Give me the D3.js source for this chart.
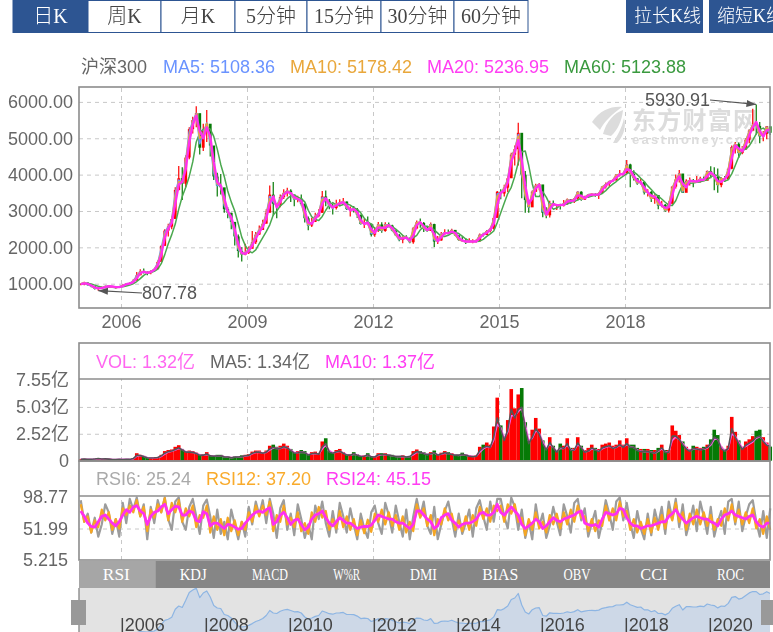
<!DOCTYPE html>
<html>
<head>
<meta charset="utf-8">
<script src="https://cdn.jsdelivr.net/npm/d3@7/dist/d3.min.js"></script>
<style>
  html, body { margin: 0; padding: 0; background: #fff; overflow: hidden; }
  svg { display: block; filter: blur(0.5px); }
  text { font-family: "Liberation Sans", "Noto Sans CJK SC", sans-serif; }
  .serif { font-family: "Liberation Serif", "Noto Sans CJK SC", serif; font-weight: 300; }
  .grid line { stroke: #c8c8c8; stroke-dasharray: 4 4; stroke-width: 1; }
  .grid .domain { display: none; }
  .lab .domain, .lab line { display: none; }
  .lab text { fill: #666; font-size: 18px; }
</style>
</head>
<body>
<svg id="chart" width="773" height="632"></svg>
<script>
// month by month readings, first value is Jan 2005, last is Jun 2021
const close = [
  985,1030,960,930,860,880,890,930,940,900,895,920,
  960,1000,1010,1080,1230,1340,1320,1290,1350,1400,1600,2040,
  2460,2570,2780,3580,3900,3750,4470,5250,5500,5690,4740,5200,
  5400,4800,3950,3700,3650,3050,2950,2700,2300,1900,1800,1850,
  1960,2140,2350,2480,2650,2950,3450,3200,3150,3380,3500,3560,
  3450,3320,3340,3200,2800,2600,2700,2860,2950,3400,3280,3130,
  3080,3200,3220,3260,3050,3050,3040,2890,2640,2680,2650,2350,
  2460,2630,2450,2630,2600,2460,2330,2200,2290,2250,2140,2520,
  2690,2670,2500,2450,2640,2160,2190,2370,2400,2370,2480,2330,
  2200,2180,2150,2160,2160,2170,2350,2340,2450,2510,2810,3530,
  3480,3640,3900,4550,4700,5150,4000,3300,3100,3530,3700,3730,
  2950,2880,3220,3160,3170,3150,3200,3320,3250,3340,3530,3310,
  3390,3450,3460,3440,3490,3670,3740,3820,3840,4000,4000,4030,
  4280,4020,3900,3760,3800,3510,3520,3330,3440,3150,3170,3010,
  3200,3670,3870,4030,3500,3830,3840,3800,3810,3890,3830,4100,
  4000,3940,3710,3900,3870,4160,4760,4840,4590,4690,4960,5210,
  5350,5340,5050,5120,5330,5150];
const high = [
  1010,1055,1030,960,930,900,920,950,960,940,920,940,
  980,1020,1040,1120,1320,1400,1420,1340,1370,1420,1640,2060,
  2500,2650,2850,3650,4240,4200,4530,5300,5590,5880,5330,5400,
  5780,5300,4600,4050,4020,3450,3100,2950,2650,2350,2000,2100,
  2020,2450,2420,2600,2760,3050,3700,3800,3200,3450,3600,3640,
  3600,3420,3420,3450,3200,2850,2810,2950,3050,3550,3560,3330,
  3200,3310,3320,3360,3260,3120,3140,3080,2900,2780,2850,2650,
  2560,2700,2690,2690,2680,2620,2480,2370,2320,2330,2270,2560,
  2740,2790,2700,2590,2680,2650,2310,2420,2500,2490,2510,2480,
  2330,2300,2250,2250,2220,2220,2380,2400,2480,2540,2850,3550,
  3600,3720,3950,4600,4800,5430,4500,4100,3280,3560,3750,3770,
  3600,3100,3280,3290,3190,3200,3300,3340,3320,3360,3540,3540,
  3420,3470,3490,3490,3510,3680,3780,3830,3870,4020,4130,4060,
  4400,4300,4120,3900,3890,3800,3600,3550,3480,3410,3280,3190,
  3270,3680,4000,4130,3750,3870,3920,3880,3960,3940,3950,4110,
  4230,4200,4170,3930,3960,4170,4800,4900,4880,4790,5000,5240,
  5810,5930,5450,5200,5340,5280];
const low = [
  960,960,950,900,840,808,860,880,910,885,860,880,
  920,960,990,1020,1100,1250,1280,1230,1260,1340,1400,1610,
  2050,2300,2500,2780,3560,3300,3650,4420,5130,5300,4550,4650,
  4900,4500,3850,3400,3450,2950,2800,2500,2050,1720,1610,1780,
  1820,2080,2090,2340,2480,2660,3050,2870,2800,3100,3330,3400,
  3250,3130,3240,3150,2680,2470,2560,2700,2830,2950,3130,3050,
  2900,3040,3130,3200,3030,2850,2960,2810,2630,2530,2640,2300,
  2290,2420,2400,2430,2560,2440,2320,2170,2110,2240,2110,2100,
  2500,2540,2420,2430,2460,2010,2090,2180,2330,2350,2380,2310,
  2180,2170,2090,2130,2110,2130,2150,2300,2340,2410,2490,2830,
  3320,3400,3520,3990,4250,4250,3350,2950,2950,3150,3520,3570,
  2830,2800,2820,3130,3030,3040,3120,3170,3200,3220,3300,3280,
  3300,3370,3400,3390,3330,3470,3620,3670,3800,3840,3950,3960,
  4040,3650,3840,3720,3730,3450,3400,3250,3200,3050,3100,2980,
  2960,3180,3620,3780,3580,3580,3700,3650,3780,3780,3820,3850,
  3900,3570,3500,3650,3800,3850,4150,4580,4460,4560,4690,4860,
  5250,5100,4860,4920,4970,5090];
const ma5 = [
  990,1025,970,935,870,875,885,925,940,905,890,915,
  950,995,1005,1075,1220,1335,1330,1295,1340,1395,1570,1980,
  2420,2560,2760,3500,3850,3780,4400,5180,5470,5680,4850,5150,
  5420,4850,4050,3700,3700,3150,2960,2740,2350,1950,1820,1850,
  1950,2130,2340,2480,2640,2920,3400,3250,3140,3360,3490,3550,
  3470,3330,3340,3230,2830,2610,2690,2850,2940,3370,3300,3150,
  3070,3190,3220,3260,3070,3040,3050,2900,2660,2670,2660,2380,
  2440,2620,2460,2620,2600,2470,2340,2210,2280,2260,2150,2500,
  2680,2680,2520,2450,2630,2200,2180,2360,2400,2380,2470,2340,
  2210,2180,2150,2160,2160,2170,2340,2340,2440,2500,2780,3470,
  3490,3630,3880,4520,4690,5100,4050,3400,3110,3510,3690,3730,
  3000,2880,3200,3170,3170,3150,3200,3310,3260,3330,3520,3320,
  3380,3450,3460,3440,3480,3660,3730,3810,3840,3990,4010,4020,
  4260,4040,3910,3770,3800,3530,3510,3340,3430,3170,3170,3020,
  3170,3640,3860,4020,3530,3800,3840,3800,3810,3880,3840,4080,
  4010,3950,3720,3890,3870,4140,4720,4840,4600,4680,4940,5190,
  5360,5370,5070,5110,5310,5108.36];
const ma10 = [
  995,1020,985,945,885,875,882,915,935,915,895,910,
  945,990,1005,1060,1185,1320,1335,1300,1330,1385,1535,1890,
  2350,2530,2720,3380,3800,3790,4300,5060,5420,5660,5000,5080,
  5400,4950,4180,3750,3700,3220,2980,2780,2420,2000,1830,1840,
  1930,2100,2310,2460,2620,2880,3330,3310,3130,3320,3480,3540,
  3480,3350,3340,3250,2880,2630,2680,2830,2930,3320,3320,3170,
  3090,3180,3220,3250,3100,3030,3050,2920,2680,2660,2660,2420,
  2420,2600,2480,2600,2610,2490,2350,2230,2270,2270,2160,2470,
  2670,2690,2540,2460,2610,2240,2170,2340,2400,2390,2460,2350,
  2220,2180,2160,2160,2160,2170,2320,2340,2430,2490,2740,3400,
  3490,3610,3850,4480,4670,5050,4120,3450,3130,3480,3670,3730,
  3080,2880,3170,3180,3170,3150,3190,3300,3270,3320,3500,3340,
  3370,3440,3460,3440,3470,3650,3720,3800,3840,3980,4010,4020,
  4240,4060,3920,3780,3800,3550,3510,3350,3420,3190,3170,3030,
  3150,3610,3850,4000,3560,3780,3840,3800,3810,3870,3840,4060,
  4020,3960,3730,3880,3870,4120,4680,4840,4620,4670,4920,5170,
  5360,5400,5090,5100,5290,5178.42];
const ma20 = [
  990,1010,1000,950,900,870,880,905,930,925,905,905,
  935,985,1005,1045,1150,1290,1330,1300,1320,1375,1500,1800,
  2260,2510,2670,3200,3730,3800,4150,4900,5370,5620,5200,5000,
  5300,5050,4350,3800,3700,3350,3000,2830,2500,2100,1850,1820,
  1900,2050,2250,2420,2560,2800,3200,3400,3100,3250,3450,3520,
  3500,3380,3330,3280,3000,2680,2650,2790,2900,3200,3350,3200,
  3100,3150,3210,3240,3150,3020,3050,2970,2750,2640,2680,2500,
  2400,2550,2540,2540,2610,2530,2400,2260,2240,2270,2190,2320,
  2610,2690,2580,2480,2540,2360,2170,2280,2390,2390,2430,2400,
  2260,2190,2160,2160,2160,2160,2260,2350,2400,2480,2650,3170,
  3500,3560,3780,4350,4620,4950,4400,3700,3200,3350,3620,3720,
  3350,2900,3050,3190,3160,3160,3170,3260,3280,3290,3430,3420,
  3350,3420,3450,3450,3450,3580,3700,3780,3830,3920,4010,4010,
  4150,4120,3960,3830,3790,3650,3510,3420,3390,3290,3150,3090,
  3100,3430,3780,3950,3750,3650,3830,3820,3810,3850,3860,3960,
  4060,3970,3820,3800,3880,4000,4450,4800,4720,4640,4820,5080,
  5300,5450,5200,5050,5220,5236.95];
const ma60 = [
  1000,1005,1005,990,960,930,905,895,905,915,915,905,
  915,935,965,1000,1060,1140,1230,1290,1310,1340,1400,1550,
  1800,2100,2350,2640,3050,3400,3650,3950,4350,4900,5150,5250,
  5300,5250,5050,4700,4280,3950,3550,3250,3000,2650,2280,2050,
  1900,1850,1930,2100,2270,2430,2620,2890,3000,3140,3220,3340,
  3420,3440,3380,3340,3250,3020,2840,2770,2740,2850,3020,3170,
  3230,3170,3140,3180,3200,3160,3090,3040,2950,2800,2700,2640,
  2520,2470,2490,2530,2570,2570,2500,2420,2330,2260,2240,2260,
  2330,2480,2590,2580,2540,2480,2390,2300,2300,2330,2390,2410,
  2380,2310,2230,2180,2160,2160,2170,2220,2300,2370,2450,2680,
  2950,3220,3480,3650,3950,4330,4620,4650,4250,3750,3400,3400,
  3530,3380,3180,3050,3080,3160,3170,3190,3240,3270,3300,3360,
  3380,3380,3410,3430,3440,3480,3560,3660,3740,3810,3890,3960,
  4020,4080,4080,4000,3900,3810,3690,3590,3480,3410,3330,3240,
  3160,3150,3280,3520,3730,3800,3760,3770,3790,3800,3830,3860,
  3930,4000,3970,3890,3820,3860,4020,4250,4490,4660,4700,4790,
  4950,5120,5240,5280,5200,5123.88];
const vol = [
  .15,.18,.12,.15,.2,.25,.18,.2,.18,.12,.12,.15,
  .12,.15,.12,.25,.7,.55,.45,.3,.28,.3,.35,.55,
  .9,1.0,1.05,1.3,1.45,1.1,.9,.95,.9,.75,.55,.6,
  .8,.5,.5,.55,.55,.4,.4,.3,.4,.4,.5,.55,
  .6,.85,.95,.95,.8,.95,1.4,1.5,1.3,1.4,1.6,1.4,
  1.1,.8,.9,1.0,.9,.6,.8,.85,.7,1.8,2.1,.9,
  .8,1.0,1.1,.8,.6,.6,.8,.6,.45,.5,.7,.4,
  .4,.7,.7,.7,.6,.55,.45,.45,.5,.4,.45,.9,
  1.05,.9,.8,.65,.8,.95,.6,.75,.9,.8,.7,.6,
  .6,.75,.6,.5,.45,.5,1.3,1.5,1.7,1.5,3.2,5.9,
  3.3,2.2,3.8,6.7,4.9,6.2,6.8,3.6,1.9,2.9,4.0,3.0,
  1.9,1.2,2.2,1.4,1.0,1.6,1.4,2.1,1.2,1.2,2.2,1.4,
  1.0,1.2,1.5,1.2,1.1,1.5,1.6,1.7,1.4,1.5,1.9,1.5,
  2.1,1.5,1.5,1.2,1.1,1.1,1.1,1.0,1.0,1.2,1.5,1.0,
  1.0,3.3,2.8,2.4,1.8,1.3,1.1,1.4,1.3,1.2,1.3,1.5,
  2.0,2.9,2.4,1.3,1.1,1.4,4.1,2.7,1.9,1.3,1.8,2.0,
  2.3,2.8,2.9,2.2,1.7,1.32];
const volMa5 = [
  .12,.15,.12,.13,.16,.2,.16,.17,.15,.11,.11,.13,
  .11,.13,.12,.2,.5,.48,.38,.27,.25,.27,.3,.45,
  .7,.85,.9,1.05,1.2,1.0,.8,.8,.78,.68,.5,.52,
  .62,.45,.42,.45,.45,.36,.34,.27,.33,.34,.4,.46,
  .5,.7,.8,.8,.7,.8,1.1,1.25,1.1,1.15,1.3,1.2,
  .95,.7,.75,.82,.75,.52,.65,.7,.6,1.3,1.6,.8,
  .7,.82,.9,.7,.52,.52,.65,.52,.4,.42,.55,.36,
  .35,.55,.58,.58,.5,.46,.38,.38,.42,.35,.38,.65,
  .85,.78,.66,.55,.65,.75,.52,.62,.74,.66,.58,.5,
  .5,.6,.5,.42,.38,.42,.95,1.2,1.35,1.25,2.2,4.0,
  2.9,1.9,2.9,4.8,4.0,4.8,5.0,3.0,1.6,2.2,3.0,2.5,
  1.6,1.0,1.7,1.2,.8,1.25,1.15,1.6,.95,1.0,1.65,1.2,
  .78,.9,1.2,1.0,.85,1.2,1.3,1.4,1.15,1.25,1.5,1.25,
  1.6,1.25,1.25,.95,.85,.85,.85,.78,.7,.95,1.2,.78,
  .78,2.3,2.3,2.0,1.5,1.1,.88,1.15,1.1,1.0,1.1,1.25,
  1.6,2.2,2.0,1.1,.88,1.15,3.0,2.2,1.6,1.05,1.45,1.65,
  1.85,2.2,2.3,1.8,1.45,1.34];
const volMa10 = [
  .12,.14,.13,.13,.15,.18,.17,.17,.16,.12,.11,.12,
  .12,.13,.12,.17,.42,.48,.41,.3,.26,.27,.29,.4,
  .62,.8,.88,1.0,1.15,1.05,.85,.8,.78,.7,.55,.52,
  .58,.48,.43,.45,.45,.38,.35,.29,.32,.34,.38,.44,
  .48,.65,.76,.8,.72,.78,1.0,1.2,1.15,1.15,1.25,1.22,
  1.0,.78,.76,.8,.76,.58,.62,.68,.62,1.1,1.45,.95,
  .75,.8,.88,.74,.56,.52,.6,.55,.42,.42,.5,.4,
  .36,.5,.56,.58,.52,.47,.4,.38,.4,.37,.38,.55,
  .78,.78,.7,.58,.62,.72,.56,.6,.7,.68,.6,.53,
  .5,.58,.52,.45,.4,.42,.8,1.1,1.3,1.25,1.95,3.4,
  3.1,2.1,2.7,4.2,4.2,4.6,4.9,3.4,1.9,2.1,2.8,2.6,
  1.8,1.1,1.55,1.25,.88,1.15,1.15,1.45,1.05,1.0,1.5,1.25,
  .85,.88,1.1,1.05,.9,1.12,1.25,1.35,1.2,1.25,1.45,1.3,
  1.5,1.3,1.25,1.0,.9,.85,.85,.8,.72,.88,1.1,.85,
  .78,1.9,2.2,2.0,1.6,1.2,.95,1.1,1.1,1.05,1.08,1.2,
  1.45,2.0,2.0,1.3,.95,1.1,2.5,2.3,1.75,1.2,1.35,1.55,
  1.75,2.1,2.25,1.9,1.55,1.37];
const rsi6 = [
  94,62,74,46,68,40,58,88,76,44,66,40,
  90,60,96,80,98,70,88,36,84,60,94,76,
  98,66,50,92,98,62,50,84,96,70,44,86,
  95,70,38,80,44,62,36,80,58,36,62,40,
  84,58,92,72,94,60,96,74,38,82,94,50,
  74,42,88,66,38,58,36,86,66,92,60,40,
  78,46,90,70,46,82,58,36,74,52,38,76,
  86,60,44,90,72,46,86,62,40,80,36,70,
  96,70,92,56,44,84,36,58,78,92,66,40,
  74,44,60,80,40,82,94,70,50,92,62,96,
  96,70,52,98,84,50,80,38,62,36,88,56,
  74,38,56,84,62,42,88,70,46,90,96,64,
  82,40,60,78,38,62,94,74,50,92,98,64,
  90,60,38,78,52,36,74,42,80,58,84,44,
  92,66,96,54,88,42,62,86,48,92,70,44,
  84,40,62,78,44,92,96,58,92,48,70,88,
  94,62,40,78,38,82];
const rsi12 = [
  88,62,70,46,64,54,80,64,76,50,66,52,
  82,72,86,76,94,70,84,48,80,68,88,76,
  97,64,90,76,94,62,82,70,86,54,72,68,
  86,46,70,50,66,42,68,48,64,42,62,50,
  76,62,86,70,86,72,92,48,72,62,86,58,
  68,54,76,48,60,44,76,62,84,68,78,50,
  66,52,78,54,70,50,66,42,64,45,65,47,
  74,62,80,58,76,56,72,50,70,46,62,48,
  88,68,82,56,72,42,66,58,82,64,74,50,
  64,48,70,50,72,56,84,66,82,62,86,78,
  86,62,88,74,88,62,68,42,66,50,76,52,
  62,46,72,58,74,52,76,58,80,62,86,68,
  70,48,66,48,64,56,86,64,82,64,92,70,
  78,50,66,46,62,44,66,46,68,50,72,52,
  80,64,90,62,76,50,74,58,80,58,76,56,
  72,50,66,56,82,64,88,62,80,58,76,60,
  82,52,66,44,70,50];
const rsi24 = [
  78,70,60,55,54,62,70,72,66,60,56,62,
  72,80,76,84,86,78,74,58,70,76,78,84,
  88,74,80,85,84,72,72,78,76,64,62,77,
  74,56,60,60,56,52,58,57,54,51,52,60,
  66,72,76,78,76,80,83,58,62,72,76,68,
  58,64,66,58,50,54,66,72,74,78,68,60,
  56,62,68,64,60,60,56,52,54,55,55,57,
  64,72,70,68,66,66,62,60,60,56,52,58,
  78,78,72,66,62,52,56,68,72,74,64,60,
  54,58,60,60,62,66,74,76,72,72,76,88,
  76,72,78,84,78,72,58,52,56,60,66,62,
  52,56,62,68,64,62,66,68,70,72,76,78,
  60,58,56,58,54,66,76,74,72,74,82,80,
  68,60,56,56,52,54,56,56,58,60,62,62,
  70,74,80,72,66,60,64,68,70,68,66,66,
  62,60,56,66,72,74,78,72,70,68,66,70,
  72,62,56,54,60,60];

// tick values and labels
const yearTicks = [2006, 2009, 2012, 2015, 2018];
const navYears = [2006, 2008, 2010, 2012, 2014, 2016, 2018, 2020];
const priceTicks = [1000, 2000, 3000, 4000, 5000, 6000];
const volTicks = [0, 2.52, 5.03, 7.55];
const rsiTicks = [5.215, 51.99, 98.77];
const periodTabs = ['日K', '周K', '月K', '5分钟', '15分钟', '30分钟', '60分钟'];
const indicatorTabs = ['RSI', 'KDJ', 'MACD', 'W%R', 'DMI', 'BIAS', 'OBV', 'CCI', 'ROC'];
const priceLegend = [['沪深300', '#666', 81], ['MA5: 5108.36', '#6a93ff', 163], ['MA10: 5178.42', '#e9a73b', 290], ['MA20: 5236.95', '#ff3df2', 427], ['MA60: 5123.88', '#3a9a3f', 564]];
const volLegend = [['VOL: 1.32亿', '#ff66f0', 96], ['MA5: 1.34亿', '#666', 210], ['MA10: 1.37亿', '#ff3df2', 325]];
const rsiLegend = [['RSI6: 25.24', '#aaa', 96], ['RSI12: 37.20', '#f9ab2c', 206], ['RSI24: 45.15', '#ff3df2', 326]];

const months = close.map((d, i) => 2005 + (i + 0.5) / 12);

const svg = d3.select('#chart');
const left = 79, right = 770;
const main = { top: 87, bottom: 308 }, volP = { legend: 343, top: 379, bottom: 461 }, rsiP = { top: 496, bottom: 560 };

const x = d3.scaleLinear().domain([2006, 2018]).range([121, 625]);
const y = d3.scaleLinear().domain([1000, 6000]).range([283.7, 101.9]);
const yVol = d3.scaleLinear().domain([0, 7.55]).range([460.7, 380]);
const yRsi = d3.scaleLinear().domain([5.215, 98.77]).range([560, 497]);
const yNav = d3.scaleLinear().domain([3300, 5800]).range([612, 587]);

function panelBox(top, bottom) {
  svg.append('rect').attr('x', left).attr('y', top).attr('width', right - left).attr('height', bottom - top)
    .attr('fill', 'none').attr('stroke', '#8c8c8c').attr('stroke-width', 1.6);
}

function seriesLine(g, values, yScale, color, width) {
  const line = d3.line().x((d, i) => x(months[i])).y(d => yScale(d));
  g.append('path').attr('d', line(values)).attr('fill', 'none').attr('stroke', color)
    .attr('stroke-width', width).attr('stroke-linejoin', 'round');
}

function legendRow(items, yPos) {
  items.forEach(it => {
    svg.append('text').attr('x', it[2]).attr('y', yPos).attr('dy', '.35em')
      .attr('font-size', 18).attr('fill', it[1]).text(it[0]);
  });
}

function vGrid(top, bottom) {
  svg.append('g').attr('class', 'grid').attr('transform', `translate(0,${bottom})`)
    .call(d3.axisBottom(x).tickValues(yearTicks).tickSize(top - bottom).tickFormat(''));
}

function hGrid(scale, ticks) {
  svg.append('g').attr('class', 'grid').attr('transform', `translate(${left},0)`)
    .call(d3.axisLeft(scale).tickValues(ticks).tickSize(left - right).tickFormat(''));
}

// top buttons
const tabEdges = [13, 88, 161, 235, 307, 381, 454, 528];
periodTabs.forEach((t, i) => {
  svg.append('rect').attr('x', tabEdges[i]).attr('y', 0.5).attr('width', tabEdges[i + 1] - tabEdges[i]).attr('height', 32)
    .attr('fill', i === 0 ? '#2d5592' : '#fff').attr('stroke', '#2d5592').attr('stroke-width', 1);
  svg.append('text').attr('class', 'serif').attr('x', (tabEdges[i] + tabEdges[i + 1]) / 2).attr('y', 16).attr('dy', '.35em')
    .attr('text-anchor', 'middle').attr('font-size', 20).attr('fill', i === 0 ? '#fff' : '#444').text(t);
});
[['拉长K线', 626, 77], ['缩短K线', 709, 70]].forEach(b => {
  svg.append('rect').attr('x', b[1]).attr('y', 0).attr('width', b[2]).attr('height', 33).attr('fill', '#2d5592');
  svg.append('text').attr('class', 'serif').attr('x', b[1] + 8).attr('y', 16).attr('dy', '.35em')
    .attr('font-size', 18).attr('fill', '#fff').text(b[0]);
});

legendRow(priceLegend, 67);

// main price panel
vGrid(main.top, main.bottom);
hGrid(y, priceTicks);

// watermark
const wm = svg.append('g').attr('fill', '#dcdcdc');
wm.append('path').attr('d', 'M592 122 C600 110 612 106 622 107 C612 114 604 122 600 130 Z');
wm.append('path').attr('d', 'M603 134 C606 122 614 113 623 110 C622 120 618 130 611 136 Z');
wm.append('path').attr('d', 'M613 143 C617 136 622 128 624 118 C627 128 622 138 617 143 Z');
wm.append('text').attr('x', 632).attr('y', 129).attr('font-size', 24).attr('font-weight', 700)
  .attr('textLength', 125).text('东方财富网');
wm.append('text').attr('x', 632).attr('y', 144).attr('font-size', 13).attr('font-weight', 700)
  .attr('textLength', 125).text('eastmoney.com');

const priceG = svg.append('g');
months.forEach((m, i) => {
  const open = i ? close[i - 1] : close[i];
  const color = close[i] >= open ? '#ff0000' : '#067a06';
  priceG.append('line').attr('x1', x(m)).attr('x2', x(m)).attr('y1', y(high[i])).attr('y2', y(low[i]))
    .attr('stroke', color).attr('stroke-width', 1.2);
  priceG.append('rect').attr('x', x(m) - 1.4).attr('width', 2.8)
    .attr('y', y(Math.max(open, close[i]))).attr('height', Math.abs(y(open) - y(close[i])))
    .attr('fill', color);
});
seriesLine(priceG, ma60, y, '#4aa84e', 1.5);
seriesLine(priceG, ma5, y, '#6a93ff', 1.6);
seriesLine(priceG, ma10, y, '#e9a73b', 1.8);
seriesLine(priceG, ma20, y, '#ff2ff0', 2.4);

// max and min markers
svg.append('defs').append('marker').attr('id', 'head').attr('viewBox', '0 0 8 6').attr('refX', 8).attr('refY', 3)
  .attr('markerWidth', 8).attr('markerHeight', 6).attr('orient', 'auto')
  .append('path').attr('d', 'M0 0 L8 3 L0 6 Z').attr('fill', '#555');
function note(label, textX, textY, year, value, anchor) {
  svg.append('line').attr('x1', textX).attr('y1', textY)
    .attr('x2', x(year)).attr('y2', y(value)).attr('stroke', '#555').attr('stroke-width', 1.2)
    .attr('marker-end', 'url(#head)');
  svg.append('text').attr('x', textX).attr('y', textY).attr('dy', '.35em').attr('text-anchor', anchor)
    .attr('font-size', 18).attr('fill', '#555').text(label);
}
note('807.78', 142, 293, 2005.46, 807.78, 'start');
note('5930.91', 710, 100, 2021.12, 5930.91, 'end');

panelBox(main.top, main.bottom);

svg.append('g').attr('class', 'lab').attr('transform', `translate(${left - 6},0)`)
  .call(d3.axisLeft(y).tickValues(priceTicks).tickSize(0).tickPadding(0).tickFormat(d3.format('.2f')));
svg.append('g').attr('class', 'lab').attr('transform', `translate(0,${main.bottom + 7})`)
  .call(d3.axisBottom(x).tickValues(yearTicks).tickSize(0).tickPadding(0).tickFormat(d3.format('d')));

// volume panel
vGrid(volP.top, volP.bottom);
hGrid(yVol, [2.52, 5.03]);
legendRow(volLegend, 362);
const volG = svg.append('g');
volG.selectAll('rect').data(vol).join('rect')
  .attr('x', (d, i) => x(months[i]) - 1.8).attr('width', 3.6)
  .attr('y', d => yVol(d)).attr('height', d => yVol(0) - yVol(d))
  .attr('fill', (d, i) => (i === 0 || close[i] >= close[i - 1]) ? '#ff0000' : '#067a06');
seriesLine(volG, volMa10, yVol, '#ff5ff0', 1.6);
seriesLine(volG, volMa5, yVol, '#555', 1.6);
panelBox(volP.legend, volP.bottom);
svg.append('line').attr('x1', left).attr('x2', right).attr('y1', volP.top).attr('y2', volP.top).attr('stroke', '#8c8c8c').attr('stroke-width', 1.4);
svg.append('g').attr('class', 'lab').attr('transform', 'translate(69,0)')
  .call(d3.axisLeft(yVol).tickValues(volTicks).tickSize(0).tickPadding(0).tickFormat(d => d ? d.toFixed(2) + '亿' : '0'));

// rsi panel
vGrid(rsiP.top, rsiP.bottom);
hGrid(yRsi, [51.99]);
legendRow(rsiLegend, 479);
const rsiG = svg.append('g');
seriesLine(rsiG, rsi6, yRsi, '#9c9c9c', 2.2);
seriesLine(rsiG, rsi12, yRsi, '#f5a623', 2.2);
seriesLine(rsiG, rsi24, yRsi, '#ff2ff0', 2.8);
panelBox(volP.bottom, rsiP.bottom);
svg.append('line').attr('x1', left).attr('x2', right).attr('y1', rsiP.top).attr('y2', rsiP.top).attr('stroke', '#8c8c8c').attr('stroke-width', 1.4);
svg.append('g').attr('class', 'lab').attr('transform', 'translate(68,0)')
  .call(d3.axisLeft(yRsi).tickValues(rsiTicks).tickSize(0).tickPadding(0).tickFormat(d => String(d)));

// indicator tabs
const tabBand = d3.scaleBand().domain(indicatorTabs).range([left, right]);
svg.append('rect').attr('x', left).attr('y', 561).attr('width', right - left).attr('height', 27).attr('fill', '#868686');
svg.append('rect').attr('x', left).attr('y', 561).attr('width', tabBand.bandwidth()).attr('height', 27).attr('fill', '#a6a6a6');
svg.selectAll('.ilab').data(indicatorTabs).join('text').attr('class', 'ilab serif')
  .attr('x', d => tabBand(d) + tabBand.bandwidth() / 2 - 1).attr('y', 574.5).attr('dy', '.35em').attr('text-anchor', 'middle')
  .attr('font-size', 17).attr('fill', '#fff').attr('textLength', d => d.length * 9).attr('lengthAdjust', 'spacingAndGlyphs').text(d => d);

// navigator
svg.append('rect').attr('x', left).attr('y', 588).attr('width', right - left).attr('height', 44).attr('fill', '#e3e3e3');
svg.append('clipPath').attr('id', 'navClip').append('rect').attr('x', left).attr('y', 588).attr('width', right - left).attr('height', 44);
const navG = svg.append('g').attr('clip-path', 'url(#navClip)');
navG.append('path').attr('fill', '#cdd8e7').attr('stroke', 'none')
  .attr('d', d3.area().x((d, i) => x(months[i])).y0(640).y1(d => yNav(d))(close));
seriesLine(navG, close, yNav, '#8db5e3', 1.2);
svg.append('line').attr('x1', left).attr('x2', left).attr('y1', 588).attr('y2', 632).attr('stroke', '#8c8c8c').attr('stroke-width', 1.4);
svg.selectAll('.navy').data(navYears).join('text').attr('class', 'navy')
  .attr('x', d => x(d) - 1).attr('y', 625).attr('dy', '.35em')
  .attr('font-size', 18).attr('fill', '#444').text(d => '|' + d);
[[71, 15], [761, 12]].forEach(h => {
  svg.append('rect').attr('x', h[0]).attr('y', 600).attr('width', h[1]).attr('height', 25).attr('fill', '#999');
});
</script>
</body>
</html>
